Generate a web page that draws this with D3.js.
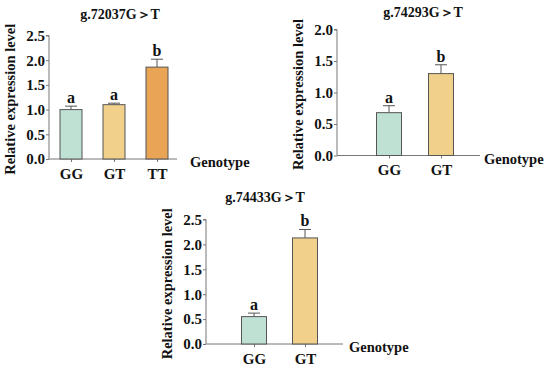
<!DOCTYPE html>
<html lang="en">
<head>
<meta charset="UTF-8">
<title>Relative expression by genotype</title>
<script src="https://d3js.org/d3.v7.min.js"></script>
<style>
  * { margin: 0; padding: 0; }
  body { background: #fff; }
  svg { display: block; }
  text { font-family: "Liberation Serif", "Times New Roman", serif; font-weight: bold; fill: #111; }
</style>
</head>
<body>
<svg id="chart" width="550" height="369"></svg>
<script>
// data
const titles = ["g.72037G\uFF1ET", "g.74293G\uFF1ET", "g.74433G\uFF1ET"];
const genotypes1 = ["GG", "GT", "TT"];
const means1 = [1.00, 1.10, 1.86];
const errs1 = [0.07, 0.03, 0.16];
const letters1 = ["a", "a", "b"];
const yTicks1 = [0, 0.5, 1.0, 1.5, 2.0, 2.5];

const genotypes2 = ["GG", "GT"];
const means2 = [0.68, 1.30];
const errs2 = [0.11, 0.14];
const letters2 = ["a", "b"];
const yTicks2 = [0, 0.5, 1.0, 1.5, 2.0];

const genotypes3 = ["GG", "GT"];
const means3 = [0.55, 2.13];
const errs3 = [0.07, 0.17];
const letters3 = ["a", "b"];
const yTicks3 = [0, 0.5, 1.0, 1.5, 2.0, 2.5];

const colors = { GG: "#bfe1d3", GT: "#f0d08b", TT: "#e9a456" };

const svg = d3.select("#chart");

function drawPanel(p) {
  const g = svg.append("g");
  const y = d3.scaleLinear().domain([0, p.yMax]).range([p.y0, p.y1]);
  const x = d3.scalePoint().domain(p.cats).range(p.centers);

  // y axis
  const yAxis = g.append("g")
    .attr("transform", `translate(${p.ax},0)`)
    .call(d3.axisLeft(y).tickValues(p.ticks).tickFormat(d3.format(".1f")).tickSize(3).tickPadding(1));
  yAxis.select(".domain").attr("stroke", "#777").attr("d", `M-3,${p.y1}H0V${p.y0}`);
  yAxis.selectAll(".tick line").attr("stroke", "#777");
  yAxis.selectAll(".tick text").style("font-size", "15px").attr("fill", "#111");

  // x axis
  const xAxis = g.append("g")
    .attr("transform", `translate(0,${p.y0})`)
    .call(d3.axisBottom(x).tickSize(3).tickPadding(6));
  xAxis.select(".domain").attr("stroke", "#777").attr("d", `M${p.ax},0H${p.axEnd}`);
  xAxis.selectAll(".tick line").attr("stroke", "#777");
  xAxis.selectAll(".tick text").style("font-size", "15px").attr("fill", "#111");

  const rows = p.cats.map((c, i) => ({ c, v: p.means[i], e: p.errs[i], l: p.letters[i] }));

  // error bars behind the bars
  g.selectAll(".err").data(rows).join("line")
    .attr("x1", d => x(d.c)).attr("x2", d => x(d.c))
    .attr("y1", d => y(d.v)).attr("y2", d => y(d.v + d.e))
    .attr("stroke", "#555").attr("stroke-width", 1);
  g.selectAll(".cap").data(rows).join("line")
    .attr("x1", d => x(d.c) - 6).attr("x2", d => x(d.c) + 6)
    .attr("y1", d => y(d.v + d.e)).attr("y2", d => y(d.v + d.e))
    .attr("stroke", "#555").attr("stroke-width", 1);

  g.selectAll(".bar").data(rows).join("rect")
    .attr("x", d => x(d.c) - p.bw / 2)
    .attr("y", d => y(d.v))
    .attr("width", p.bw)
    .attr("height", d => y(0) - y(d.v))
    .attr("fill", d => colors[d.c])
    .attr("stroke", "#555").attr("stroke-width", 1);

  g.selectAll(".sig").data(rows).join("text")
    .attr("x", d => x(d.c))
    .attr("y", d => y(d.v + d.e) - 3)
    .attr("text-anchor", "middle")
    .style("font-size", "16px")
    .text(d => d.l);

  g.append("text")
    .attr("x", p.titleX).attr("y", p.titleY)
    .attr("text-anchor", "middle")
    .style("font-size", "14px")
    .text(p.title);

  g.append("text")
    .attr("transform", `translate(${p.ax - 34},${(p.y0 + p.y1) / 2 + 2}) rotate(-90)`)
    .attr("text-anchor", "middle")
    .style("font-size", "14.5px")
    .text("Relative expression level");

  g.append("text")
    .attr("x", p.genoX).attr("y", p.y0 + 8)
    .style("font-size", "14.5px")
    .text("Genotype");
}

drawPanel({ title: titles[0], cats: genotypes1, means: means1, errs: errs1, letters: letters1,
  ticks: yTicks1, yMax: 2.5, y0: 159, y1: 35.5, ax: 49, axEnd: 177, centers: [71, 157], bw: 22,
  titleX: 120, titleY: 19, genoX: 190 });
drawPanel({ title: titles[1], cats: genotypes2, means: means2, errs: errs2, letters: letters2,
  ticks: yTicks2, yMax: 2.0, y0: 155.5, y1: 29.5, ax: 337, axEnd: 480, centers: [389, 441], bw: 25,
  titleX: 423, titleY: 17, genoX: 484 });
drawPanel({ title: titles[2], cats: genotypes3, means: means3, errs: errs3, letters: letters3,
  ticks: yTicks3, yMax: 2.5, y0: 344, y1: 219.5, ax: 206, axEnd: 343, centers: [254, 305], bw: 25,
  titleX: 265, titleY: 202, genoX: 349 });
</script>
</body>
</html>
